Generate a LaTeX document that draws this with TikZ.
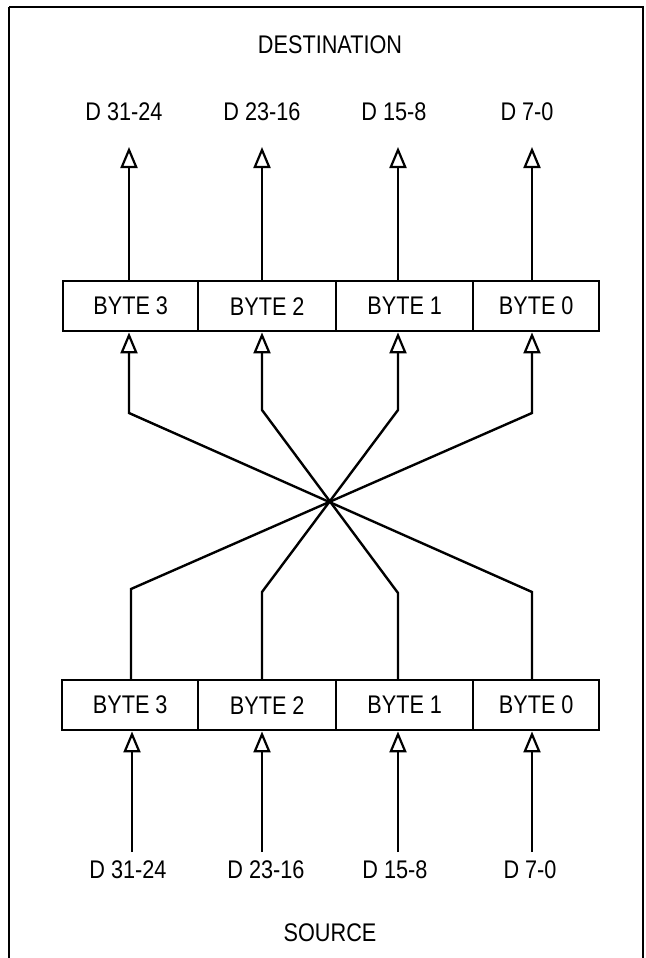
\documentclass[tikz,border=0pt]{standalone}
\usepackage{fontspec}
\setmainfont{Liberation Sans}[FakeStretch=0.85]
\usetikzlibrary{arrows.meta}
\begin{document}
\begin{tikzpicture}[x=1pt,y=-1pt,line width=2.4pt,
  font=\fontsize{25.5}{30}\selectfont,
  bytebox/.style={draw, rectangle, minimum height=50pt, inner sep=0pt, anchor=north west},
  lbl/.style={inner sep=0pt, anchor=center},
  arr/.style={-{Triangle[open,length=21pt,width=17pt,line width=2.2pt]}},
  conn/.style={line join=miter}]
\useasboundingbox (0,0) rectangle (645,958);
\draw (9,7) -- (643,7) -- (643,990) (9,7) -- (9,990);
% titles
\node[lbl] (dest) at (330,45) {DESTINATION};
\node[lbl] (src) at (330,933) {SOURCE};
% top boxes
\node[bytebox, minimum width=135pt] (t3) at (62,280) {BYTE 3};
\node[bytebox, minimum width=138pt] (t2) at (197,280) {BYTE 2};
\node[bytebox, minimum width=137pt] (t1) at (335,280) {BYTE 1};
\node[bytebox, minimum width=126pt] (t0) at (472,280) {BYTE 0};
% bottom boxes
\node[bytebox, minimum width=136pt] (b3) at (61,679) {BYTE 3};
\node[bytebox, minimum width=138pt] (b2) at (197,679) {BYTE 2};
\node[bytebox, minimum width=137pt] (b1) at (335,679) {BYTE 1};
\node[bytebox, minimum width=126pt] (b0) at (472,679) {BYTE 0};
% destination labels
\node[lbl] (d3) at (124,112) {D 31-24};
\node[lbl] (d2) at (262,112) {D 23-16};
\node[lbl] (d1) at (394,112) {D 15-8};
\node[lbl] (d0) at (527,112) {D 7-0};
% source labels
\node[lbl] (s3) at (128,870) {D 31-24};
\node[lbl] (s2) at (266,870) {D 23-16};
\node[lbl] (s1) at (395,870) {D 15-8};
\node[lbl] (s0) at (530,870) {D 7-0};
% coordinates
\coordinate (dt3) at (129,147); \coordinate (dt2) at (262,147);
\coordinate (dt1) at (398,147); \coordinate (dt0) at (532,147);
\coordinate (st3) at (132,852); \coordinate (st2) at (262,852);
\coordinate (st1) at (398,852); \coordinate (st0) at (532,852);
% upper bends
\coordinate (u3) at (129,413); \coordinate (u2) at (262,410);
\coordinate (u1) at (398,410); \coordinate (u0) at (532,413);
% lower bends
\coordinate (l3) at (131,589); \coordinate (l2) at (262,592);
\coordinate (l1) at (398,593); \coordinate (l0) at (532,592);
% top outputs
\draw[arr] (t3.north -| dt3) -- (dt3);
\draw[arr] (t2.north -| dt2) -- (dt2);
\draw[arr] (t1.north -| dt1) -- (dt1);
\draw[arr] (t0.north -| dt0) -- (dt0);
% source inputs
\draw[arr] (st3) -- (b3.south -| st3);
\draw[arr] (st2) -- (b2.south -| st2);
\draw[arr] (st1) -- (b1.south -| st1);
\draw[arr] (st0) -- (b0.south -| st0);
% byte swap
\draw[arr,conn] (b0.north -| l0) -- (l0) -- (u3) -- (t3.south -| u3);
\draw[arr,conn] (b1.north -| l1) -- (l1) -- (u2) -- (t2.south -| u2);
\draw[arr,conn] (b2.north -| l2) -- (l2) -- (u1) -- (t1.south -| u1);
\draw[arr,conn] (b3.north -| l3) -- (l3) -- (u0) -- (t0.south -| u0);
\end{tikzpicture}
\end{document}
